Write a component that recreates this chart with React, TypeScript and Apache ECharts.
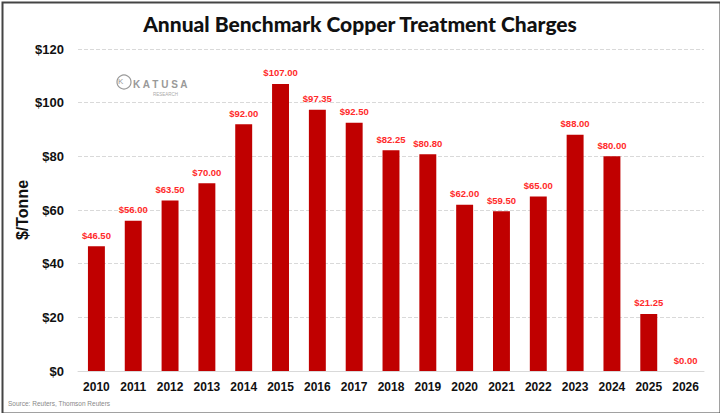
import React, { useEffect, useRef } from "react";
import * as echarts from "echarts";

const years = ["2010","2011","2012","2013","2014","2015","2016","2017","2018","2019","2020","2021","2022","2023","2024","2025","2026"];
const charges = [46.5,56,63.5,70,92,107,97.35,92.5,82.25,80.8,62,59.5,65,88,80,21.25,0];

export default function App() {
  const ref = useRef<HTMLDivElement>(null);
  useEffect(() => {
    const chart = echarts.init(ref.current!, null, { renderer: "svg" });
    chart.setOption({
      animation: false,
      backgroundColor: "#fff",
      title: { text: "Annual Benchmark Copper Treatment Charges", left: "center", top: 8,
        textStyle: { fontFamily: "Lato", fontWeight: 900, fontSize: 21, color: "#111" } },
      grid: { left: 78, right: 16, top: 49, bottom: 42 },
      xAxis: { type: "category", data: years,
        axisLine: { lineStyle: { color: "#d9d9d9" } }, axisTick: { show: false },
        axisLabel: { fontFamily: "Liberation Sans", fontWeight: "bold", fontSize: 12, color: "#111", margin: 10 } },
      yAxis: { type: "value", min: 0, max: 120, interval: 20,
        name: "$/Tonne", nameLocation: "middle", nameGap: 48, nameMoveOverlap: false,
        nameTextStyle: { fontFamily: "Liberation Sans", fontWeight: "bold", fontSize: 16, color: "#111" },
        axisLabel: { formatter: (v: number) => "$" + v, fontFamily: "Liberation Sans", fontWeight: "bold", fontSize: 13, color: "#111", margin: 14 },
        splitLine: { lineStyle: { type: "dashed", color: "#d9d9d9" } } },
      series: [{ type: "bar", data: charges, barWidth: "46%", itemStyle: { color: "#c00000" },
        label: { show: true, position: "top", distance: 6, formatter: (p: any) => "$" + p.value.toFixed(2),
          fontFamily: "Liberation Sans", fontWeight: "bold", fontSize: 9.5, color: "#ff2a2a" } }],
      graphic: [
        { type: "rect", left: 0, top: 0, shape: { width: 718, height: 411 }, style: { fill: "none", stroke: "#444", lineWidth: 2 } },
        { type: "circle", shape: { cx: 124, cy: 82, r: 7 }, style: { fill: "none", stroke: "#999", lineWidth: 1.2 } },
        { type: "text", left: 118, top: 77, style: { text: "K", fontSize: 8, fill: "#999", fontFamily: "Liberation Sans" } },
        { type: "text", left: 133, top: 79, style: { text: "K A T U S A", fontSize: 10, fill: "#999", fontWeight: "bold", fontFamily: "Liberation Sans" } },
        { type: "text", left: 153, top: 92, style: { text: "RESEARCH", fontSize: 4.5, fill: "#aaa", fontFamily: "Liberation Sans" } },
        { type: "text", left: 8, top: 400, style: { text: "Source: Reuters, Thomson Reuters", fontSize: 6.5, fill: "#888", fontFamily: "Liberation Sans" } }
      ]
    });
    return () => chart.dispose();
  }, []);
  return <div ref={ref} style={{ width: 720, height: 413, position: "absolute", left: 0, top: 0 }} />;
}
